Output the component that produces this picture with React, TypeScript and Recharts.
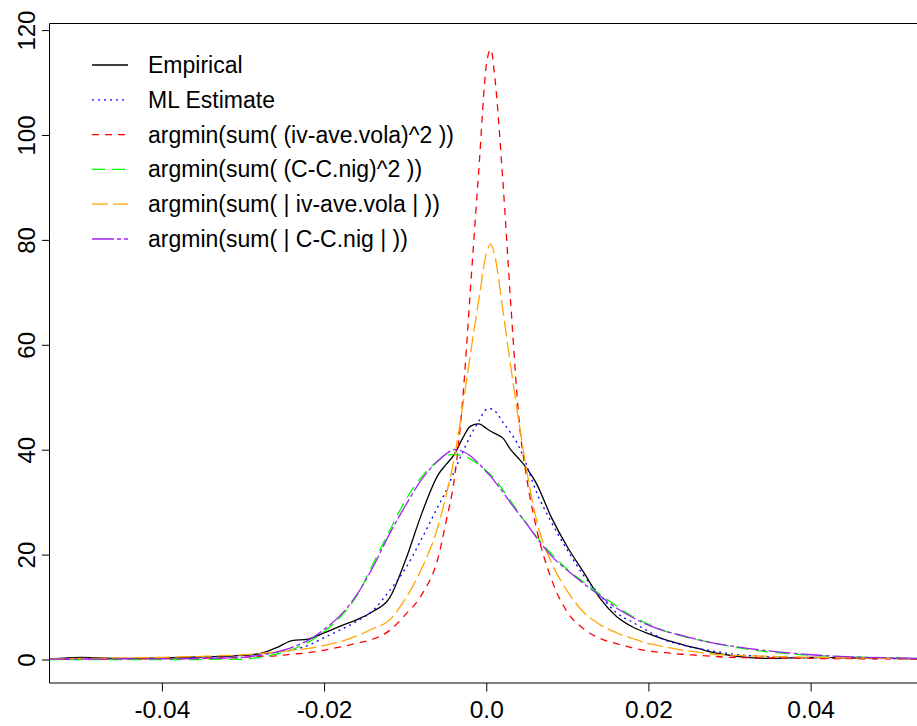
import { LineChart, Line, XAxis, YAxis, ReferenceLine } from 'recharts'

// x grid (log-return) shared by all density curves
const xs = [
  -0.054, -0.05, -0.045, -0.04, -0.035, -0.03, -0.028, -0.026, -0.024, -0.022,
  -0.02, -0.018, -0.016, -0.014, -0.012, -0.01, -0.008, -0.006, -0.005, -0.004,
  -0.003, -0.002, -0.001, 0, 0.0005, 0.001, 0.002, 0.003, 0.004, 0.005,
  0.006, 0.008, 0.01, 0.012, 0.014, 0.016, 0.018, 0.02, 0.022, 0.024,
  0.026, 0.028, 0.03, 0.035, 0.04, 0.045, 0.05, 0.054
]

const empirical = [
  0.2, 0.5, 0.3, 0.4, 0.6, 0.9, 1.2, 2.3, 3.7, 4.0,
  5.2, 6.5, 7.7, 9.3, 11.8, 19.1, 28.0, 35.3, 37.3, 39.2,
  42.2, 44.6, 45.0, 44.1, 43.6, 43.2, 42.3, 40.0, 38.3, 36.4,
  34.0, 27.1, 21.4, 16.6, 11.7, 8.3, 6.3, 5.0, 3.9, 3.0,
  2.2, 1.4, 0.9, 0.3, 0.5, 0.4, 0.3, 0.2
]

const mlEstimate = [
  0.1, 0.15, 0.2, 0.3, 0.5, 0.9, 1.1, 1.5, 1.9, 2.8,
  4.3, 5.8, 7.4, 9.5, 13.2, 17.5, 23.2, 29.3, 32.3, 36.0,
  39.5, 42.8, 45.5, 47.8, 47.9, 47.5, 45.3, 43.2, 40.6, 36.8,
  32.5, 26.2, 20.8, 16.0, 12.3, 9.0, 7.2, 5.4, 3.8, 2.9,
  2.2, 1.7, 1.2, 0.6, 0.4, 0.3, 0.25, 0.2
]

const sqIv = [
  0.1, 0.15, 0.2, 0.25, 0.35, 0.5, 0.7, 0.8, 1.1, 1.4,
  1.9, 2.5, 3.2, 4.0, 5.6, 8.7, 12.5, 19.5, 26.5, 34.5,
  49.0, 71.0, 93.0, 114.0, 116.4, 111.0, 91.0, 67.0, 45.5, 34.0,
  26.0, 15.3, 9.0, 5.9, 4.1, 3.1, 2.3, 1.7, 1.4, 1.1,
  0.9, 0.7, 0.5, 0.4, 0.3, 0.25, 0.2, 0.2
]

const sqC = [
  0.1, 0.1, 0.1, 0.1, 0.1, 0.15, 0.5, 1.1, 2.0, 3.4,
  5.5, 8.3, 12.3, 18.4, 24.6, 30.5, 35.0, 38.0, 39.0, 39.2,
  38.9, 38.3, 37.3, 36.0, 35.3, 34.5, 32.4, 30.2, 28.0, 25.8,
  23.8, 20.2, 17.2, 14.8, 12.5, 10.3, 8.3, 6.8, 5.5, 4.6,
  3.9, 3.2, 2.6, 1.5, 0.9, 0.6, 0.4, 0.3
]

const absIv = [
  0.2, 0.3, 0.4, 0.5, 0.7, 1.0, 1.2, 1.5, 1.9, 2.2,
  2.8, 3.5, 4.6, 6.0, 7.6, 11.8, 17.5, 25.5, 31.5, 38.5,
  48.0, 58.5, 68.5, 77.8, 79.3, 77.0, 66.5, 55.5, 45.0, 35.5,
  27.5, 18.5, 13.0, 9.0, 6.7, 5.2, 4.1, 3.1, 2.5, 1.9,
  1.5, 1.1, 0.95, 0.7, 0.5, 0.4, 0.3, 0.25
]

const absC = [
  0.15, 0.15, 0.2, 0.2, 0.3, 0.5, 0.9, 1.5, 2.4, 3.8,
  5.9, 8.6, 12.5, 17.8, 24.0, 29.5, 34.5, 38.0, 39.3, 40.1,
  39.8, 38.9, 37.5, 35.8, 35.0, 34.0, 32.0, 29.8, 27.8, 25.8,
  23.6, 19.8, 17.0, 14.5, 12.2, 9.9, 8.1, 6.6, 5.5, 4.7,
  3.9, 3.2, 2.7, 1.7, 1.0, 0.6, 0.4, 0.3
]

const xTicks = [-0.04, -0.02, 0, 0.02, 0.04]
const xTickLabels = ['-0.04', '-0.02', '0.0', '0.02', '0.04']
const yTicks = [0, 20, 40, 60, 80, 100, 120]

const seriesNames = [
  'Empirical',
  'ML Estimate',
  'argmin(sum( (iv-ave.vola)^2 ))',
  'argmin(sum( (C-C.nig)^2 ))',
  'argmin(sum( | iv-ave.vola | ))',
  'argmin(sum( | C-C.nig | ))'
]
const seriesKeys = ['empirical', 'ml', 'sqIv', 'sqC', 'absIv', 'absC']
const seriesColors = ['#000000', '#0000FF', '#FF0000', '#00FF00', '#FFA500', '#A020F0']
const seriesDash = [undefined, '2 4', '7 6', '13 7', '16 5', '22 3 4 3']

const data = xs.map((x, i) => ({
  x,
  empirical: empirical[i],
  ml: mlEstimate[i],
  sqIv: sqIv[i],
  sqC: sqC[i],
  absIv: absIv[i],
  absC: absC[i]
}))

const FONT = '"Liberation Sans", Arial, Helvetica, sans-serif'
const X_DOMAIN = [-0.05392, 0.05392]
const Y_DOMAIN = [-4.385, 121.35]

const XTick = ({ x, y, payload }: any) => {
  const idx = xTicks.indexOf(payload.value)
  return (
    <text x={x} y={y + 24} textAnchor="middle" fontSize={24.5} fontFamily={FONT} fill="#000">
      {idx >= 0 ? xTickLabels[idx] : payload.value}
    </text>
  )
}

const YTick = ({ x, y, payload }: any) => {
  const bx = x - 5
  return (
    <text
      x={bx}
      y={y}
      transform={`rotate(-90, ${bx}, ${y})`}
      textAnchor="middle"
      fontSize={24}
      fontFamily={FONT}
      fill="#000"
    >
      {payload.value}
    </text>
  )
}

// legend drawn like R's legend(): no box, line sample + label
const ChartLegend = () => (
  <svg
    width={500}
    height={260}
    style={{ position: 'absolute', left: 0, top: 0, pointerEvents: 'none' }}
  >
    {seriesNames.map((name, i) => {
      const cy = 65 + i * 34.8
      return (
        <g key={name}>
          <line
            x1={92}
            x2={128}
            y1={cy}
            y2={cy}
            stroke={seriesColors[i]}
            strokeWidth={1.3}
            strokeDasharray={seriesDash[i]}
          />
          <text x={148} y={cy} dy="0.35em" fontSize={23} fontFamily={FONT} fill="#000">
            {name}
          </text>
        </g>
      )
    })}
  </svg>
)

export default function App() {
  return (
    <div
      style={{
        position: 'fixed',
        left: 0,
        top: 0,
        width: 917,
        height: 726,
        overflow: 'hidden',
        background: '#fff'
      }}
    >
      <LineChart
        width={940}
        height={726}
        data={data}
        margin={{ top: 23.5, right: 16, bottom: 0, left: 0 }}
      >
        <XAxis
          dataKey="x"
          type="number"
          domain={X_DOMAIN}
          allowDataOverflow
          ticks={xTicks}
          interval={0}
          height={43}
          tickSize={8.5}
          tickMargin={2}
          axisLine={{ stroke: '#000', strokeWidth: 1 }}
          tickLine={{ stroke: '#000', strokeWidth: 1 }}
          tick={<XTick />}
        />
        <YAxis
          type="number"
          domain={Y_DOMAIN}
          allowDataOverflow
          ticks={yTicks}
          interval={0}
          width={49.5}
          tickSize={7.5}
          tickMargin={2}
          axisLine={{ stroke: '#000', strokeWidth: 1 }}
          tickLine={{ stroke: '#000', strokeWidth: 1 }}
          tick={<YTick />}
        />
        <ReferenceLine y={Y_DOMAIN[1]} stroke="#000" strokeWidth={1} />
        {seriesKeys.map((key, i) => (
          <Line
            key={key}
            dataKey={key}
            name={seriesNames[i]}
            type="monotone"
            stroke={seriesColors[i]}
            strokeWidth={1.3}
            strokeDasharray={seriesDash[i]}
            dot={false}
            activeDot={false}
            isAnimationActive={false}
          />
        ))}
      </LineChart>
      <ChartLegend />
    </div>
  )
}
